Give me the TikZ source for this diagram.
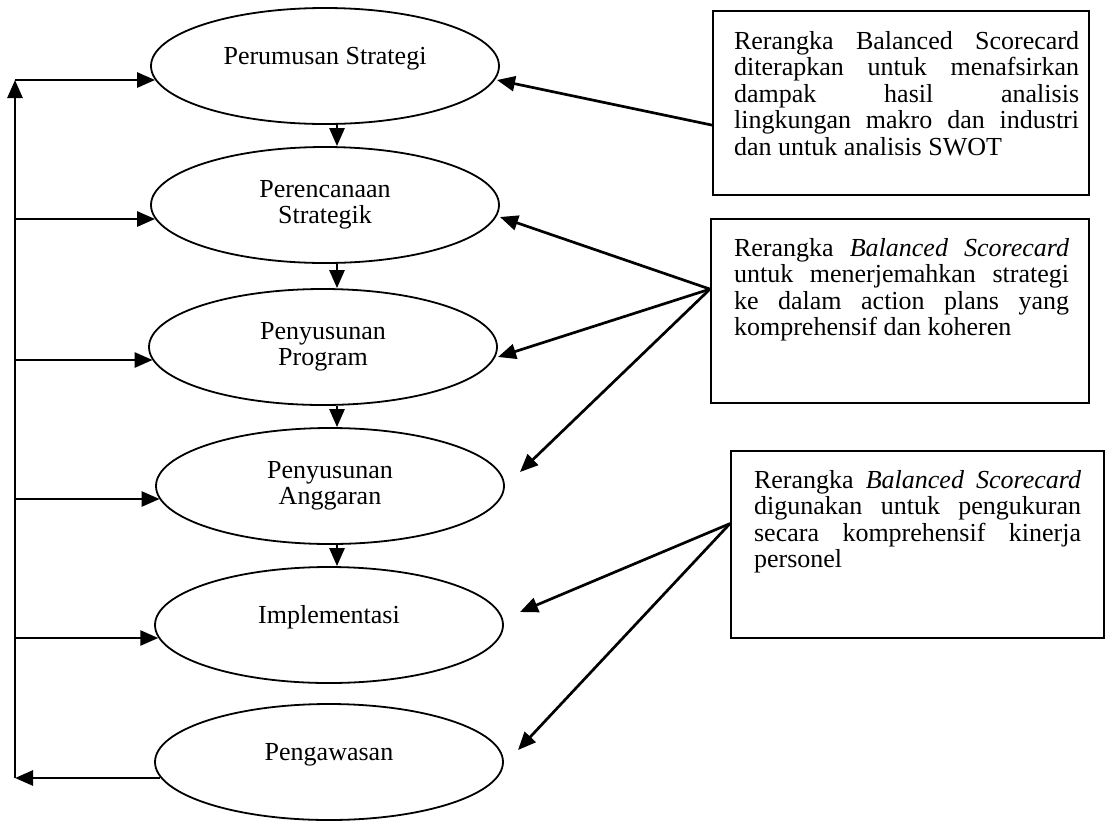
\documentclass[tikz,border=0pt]{standalone}
\usepackage{fontspec}
\setmainfont{Liberation Serif}
\usetikzlibrary{arrows.meta,shapes.geometric,calc}
\begin{document}
\begin{tikzpicture}[x=1pt,y=-1pt,
  font=\fontsize{26}{26.5}\selectfont,
  proc/.style={draw,ellipse,line width=1.8pt,minimum width=348pt,minimum height=116pt,inner sep=0pt,align=center},
  single/.style={text height=18pt,text depth=21pt},
  note/.style={draw,line width=2.2pt,rectangle,inner sep=0pt,anchor=north west},
  arr/.style={line width=2.7pt,-{Triangle[length=18pt,width=15pt]}}]
\useasboundingbox (0,0) rectangle (1105,820);
\hyphenpenalty=10000
% process ellipses
\node[proc,single] (E1) at (325,66) {Perumusan Strategi};
\node[proc] (E2) at (325,205) {Perencanaan\\Strategik};
\node[proc] (E3) at (323,347) {Penyusunan\\Program};
\node[proc] (E4) at (330,486) {Penyusunan\\Anggaran};
\node[proc,single] (E5) at (329,625) {Implementasi};
\node[proc,single] (E6) at (329,762) {Pengawasan};
% notes
\node[note] (B1) at (712,10) {\hspace*{21pt}\parbox[c][184pt][t]{345pt}{\vspace*{20pt}Rerangka Balanced Scorecard\linebreak diterapkan untuk menafsirkan\linebreak dampak hasil analisis\linebreak lingkungan makro dan industri\linebreak dan untuk analisis SWOT}\hspace*{10pt}};
\node[note] (B2) at (710,218) {\hspace*{23pt}\parbox[c][184pt][t]{335pt}{\vspace*{19pt}Rerangka \textit{Balanced Scorecard}\linebreak untuk menerjemahkan strategi\linebreak ke dalam action plans yang\linebreak komprehensif dan koheren}\hspace*{20pt}};
\node[note] (B3) at (730,450) {\hspace*{23pt}\parbox[c][187pt][t]{327pt}{\vspace*{19pt}Rerangka \textit{Balanced Scorecard}\linebreak digunakan untuk pengukuran\linebreak secara komprehensif kinerja\linebreak personel}\hspace*{23pt}};
% sequence arrows
\coordinate (ax) at (337,0);
\foreach \a/\b in {E1/E2,E2/E3,E3/E4,E4/E5}
  \draw[arr] (\a.south -| ax) -- (\b.north -| ax);
% feedback loop
\coordinate (L0) at (15,778);
\coordinate (L1) at (15,80);
\coordinate (L2) at (15,219);
\coordinate (L3) at (15,360);
\coordinate (L4) at (15,499);
\coordinate (L5) at (15,638);
\draw[arr] ($(L0 -| E6.west)+(6,0)$) -- (L0);
\draw[arr] (L0) -- (L1);
\draw[arr] (L1) -- ($(L1 -| E1.west)+(5,0)$);
\draw[arr] (L2) -- ($(L2 -| E2.west)+(5,0)$);
\draw[arr] (L3) -- ($(L3 -| E3.west)+(4.5,0)$);
\draw[arr] (L4) -- ($(L4 -| E4.west)+(4.5,0)$);
\draw[arr] (L5) -- ($(L5 -| E5.west)+(4.2,0)$);
% note arrows
\coordinate (o1) at ($(B1.west)+(0,22)$);
\coordinate (o2) at ($(B2.west)+(0,-22)$);
\coordinate (o3) at ($(B3.west)+(0,-21)$);
\coordinate (t1) at (497,80);
\coordinate (t2) at (500,217);
\coordinate (t3) at (498,357);
\coordinate (t4) at (520,472);
\coordinate (t5) at (520,612);
\coordinate (t6) at (518,750);
\draw[arr] (o1) -- (t1);
\draw[arr] (o2) -- (t2);
\draw[arr] (o2) -- (t3);
\draw[arr] (o2) -- (t4);
\draw[arr] (o3) -- (t5);
\draw[arr] (o3) -- (t6);
\end{tikzpicture}
\end{document}
